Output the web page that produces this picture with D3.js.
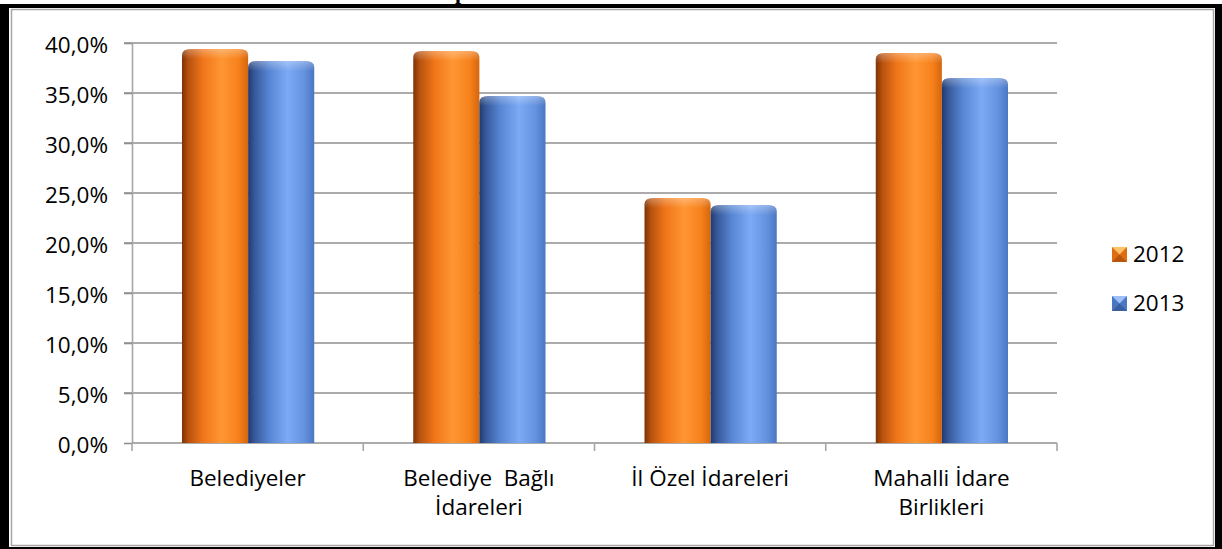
<!DOCTYPE html>
<html>
<head>
<meta charset="utf-8">
<script src="https://cdn.jsdelivr.net/npm/d3@7"></script>
<style>
  body { margin: 0; background: #fff; }
  text { font-family: "Open Sans", sans-serif; fill: #000; }
</style>
</head>
<body>
<div id="chart-area"></div>
<script>
// Chart data
var categories = ["Belediyeler", "Belediye  Bağlı\nİdareleri", "İl Özel İdareleri", "Mahalli İdare\nBirlikleri"];
var seriesNames = ["2012", "2013"];
var values2012 = [0.394, 0.392, 0.245, 0.390];
var values2013 = [0.382, 0.347, 0.238, 0.365];
var yTicks = [0, 0.05, 0.10, 0.15, 0.20, 0.25, 0.30, 0.35, 0.40];

var W = 1222, H = 549;
var plot = {left: 132, right: 1057, top: 43, bottom: 443};
var fontSize = "22.5px";

var svg = d3.select("#chart-area")
    .append("svg")
        .attr("width", W)
        .attr("height", H);

// Cut-off title (only a descender is left in the picture)
svg.append("text")
    .attr("x", 455)
    .attr("y", -1)
    .style("font-family", "'Liberation Serif', serif")
    .style("font-weight", "bold")
    .style("font-size", "22px")
    .text("p");

// Outer black frame + inner gray border
svg.append("rect").attr("x", 0).attr("y", 4).attr("width", W).attr("height", H - 4).attr("fill", "#000");
svg.append("rect").attr("x", 9).attr("y", 8).attr("width", 1206).attr("height", 539).attr("fill", "#fff");
svg.append("rect").attr("x", 11.5).attr("y", 9.5).attr("width", 1202).attr("height", 536)
    .attr("fill", "none").attr("stroke", "#a6a6a6").attr("stroke-width", 1.5);

// Gradients for the cylinder bars
var defs = svg.append("defs");
function hGrad(id, stops) {
    var gr = defs.append("linearGradient").attr("id", id)
        .attr("x1", "0%").attr("x2", "100%").attr("y1", "0%").attr("y2", "0%");
    stops.forEach(function (s) {
        gr.append("stop").attr("offset", s[0]).attr("stop-color", s[1]);
    });
}
hGrad("g2012", [["0%", "#7e3205"], ["10%", "#b8520f"], ["32%", "#f0761a"], ["60%", "#ff9633"], ["85%", "#f7821c"], ["100%", "#d6660c"]]);
hGrad("g2013", [["0%", "#223a6c"], ["10%", "#37599a"], ["32%", "#5886d4"], ["60%", "#7caaf4"], ["85%", "#6592df"], ["100%", "#4a76c2"]]);
var cap = defs.append("linearGradient").attr("id", "cap")
    .attr("x1", "0%").attr("x2", "0%").attr("y1", "0%").attr("y2", "100%");
cap.append("stop").attr("offset", "0%").attr("stop-color", "#fff").attr("stop-opacity", 0.30);
cap.append("stop").attr("offset", "100%").attr("stop-color", "#fff").attr("stop-opacity", 0);

var colors = {"2012": "url(#g2012)", "2013": "url(#g2013)"};

// Scales
var x = d3.scaleBand()
    .domain(categories)
    .range([plot.left, plot.right])
    .paddingInner(0)
    .paddingOuter(0);

var x1 = d3.scaleBand()
    .domain(seriesNames)
    .range([50, x.bandwidth() - 49])
    .paddingInner(0);

var y = d3.scaleLinear()
    .domain([0, 0.40])
    .range([plot.bottom, plot.top]);

var trFormat = d3.formatLocale({decimal: ",", thousands: ".", grouping: [3], currency: ["", "₺"]}).format(".1%");

// Gridlines
svg.append("g")
    .selectAll("line")
    .data(yTicks.slice(1))
    .enter().append("line")
        .attr("x1", plot.left - 8)
        .attr("x2", plot.right)
        .attr("y1", function (d) { return y(d); })
        .attr("y2", function (d) { return y(d); })
        .attr("stroke", "#8f8f8f")
        .attr("stroke-width", 1.6);

// Y axis
var yAxis = svg.append("g")
    .attr("transform", "translate(" + plot.left + ",0)")
    .call(d3.axisLeft(y).tickValues(yTicks).tickFormat(trFormat).tickSize(8).tickPadding(16).tickSizeOuter(0));
yAxis.select(".domain").attr("stroke", "#a6a6a6").attr("stroke-width", 1.6);
yAxis.selectAll(".tick line").attr("stroke", "#8f8f8f").attr("stroke-width", 1.6);
yAxis.selectAll(".tick text")
    .attr("dy", "0.40em")
    .style("font-size", fontSize)
    .attr("font-family", null);

// X axis line and category separators
svg.append("line")
    .attr("x1", plot.left).attr("x2", plot.right)
    .attr("y1", plot.bottom).attr("y2", plot.bottom)
    .attr("stroke", "#8f8f8f").attr("stroke-width", 1.6);
var bounds = categories.map(function (c) { return x(c); }).concat([plot.right]);
svg.append("g").selectAll("line")
    .data(bounds)
    .enter().append("line")
        .attr("x1", function (d) { return d; })
        .attr("x2", function (d) { return d; })
        .attr("y1", plot.bottom)
        .attr("y2", plot.bottom + 8)
        .attr("stroke", "#a6a6a6").attr("stroke-width", 1.6);

// Category labels (wrapped on \n)
var labels = svg.append("g").selectAll("text")
    .data(categories)
    .enter().append("text")
        .attr("text-anchor", "middle")
        .attr("xml:space", "preserve")
        .style("font-size", fontSize)
        .style("white-space", "pre")
        .attr("transform", function (d) { return "translate(" + (x(d) + x.bandwidth() / 2) + ",486)"; });
labels.each(function (d) {
    var t = d3.select(this);
    d.split("\n").forEach(function (line, i) {
        t.append("tspan").attr("x", 0).attr("y", i * 29).text(line);
    });
});

// Bars (cylinder look: rounded top + horizontal shading)
var rows = [];
categories.forEach(function (c, i) {
    rows.push({cat: c, series: "2012", value: values2012[i]});
    rows.push({cat: c, series: "2013", value: values2013[i]});
});

function barPath(x0, w, top, bottom) {
    var rx = 9, ry = 6;
    return "M" + x0 + "," + bottom +
        "L" + x0 + "," + (top + ry) +
        "Q" + x0 + "," + top + " " + (x0 + rx) + "," + top +
        "L" + (x0 + w - rx) + "," + top +
        "Q" + (x0 + w) + "," + top + " " + (x0 + w) + "," + (top + ry) +
        "L" + (x0 + w) + "," + bottom + "Z";
}

var bars = svg.append("g").selectAll("g")
    .data(rows)
    .enter().append("g");
bars.append("path")
    .attr("d", function (d) {
        return barPath(x(d.cat) + x1(d.series), x1.bandwidth(), y(d.value), y(0));
    })
    .attr("fill", function (d) { return colors[d.series]; });
bars.append("path")
    .attr("d", function (d) {
        return barPath(x(d.cat) + x1(d.series), x1.bandwidth(), y(d.value), y(d.value) + 10);
    })
    .attr("fill", "url(#cap)");

// Legend
var legendColors = {"2012": ["#de6c12", "#ffc266", "#9e4408"], "2013": ["#4a76c2", "#9cc0f7", "#2e4f8c"]};
var legend = svg.append("g").selectAll("g")
    .data(seriesNames)
    .enter().append("g")
        .attr("transform", function (d, i) { return "translate(1112," + (247 + i * 49) + ")"; });
legend.append("rect")
    .attr("width", 15).attr("height", 15)
    .attr("fill", function (d) { return legendColors[d][0]; });
legend.append("path")
    .attr("d", "M0,0L15,0L7.5,7.5Z")
    .attr("fill", function (d) { return legendColors[d][1]; });
legend.append("path")
    .attr("d", "M0,15L15,15L7.5,7.5Z")
    .attr("fill", function (d) { return legendColors[d][2]; })
    .attr("opacity", 0.6);
legend.append("text")
    .attr("x", 21)
    .attr("y", 15)
    .style("font-size", fontSize)
    .text(function (d) { return d; });
</script>
</body>
</html>
